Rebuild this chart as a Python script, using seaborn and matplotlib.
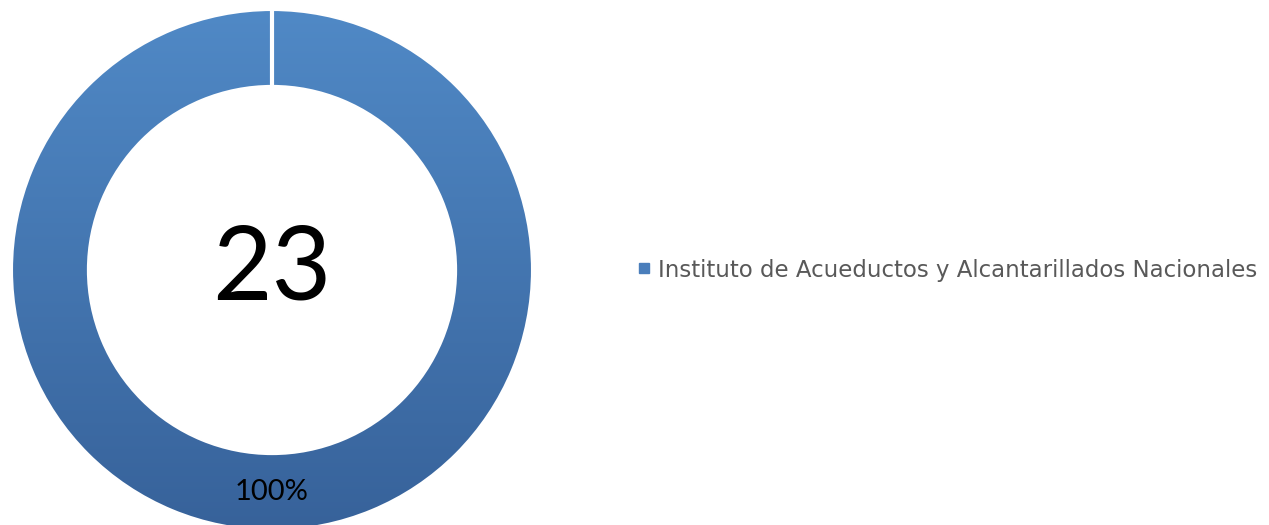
import numpy as np
import matplotlib
matplotlib.use("Agg")
import matplotlib.pyplot as plt
import seaborn as sns
from matplotlib.lines import Line2D
from matplotlib.colors import LinearSegmentedColormap

# data
categories = ["Instituto de Acueductos y Alcantarillados Nacionales"]
values = [23]

sns.set_theme(style="white")
plt.rcParams['font.family'] = ['Lato', 'DejaVu Sans']

fig = plt.figure(figsize=(12.69, 5.25), dpi=100)
ax = fig.add_axes([0, 0, 544 / 1269, 1])
ax.axis('off')

top_col, bottom_col = "#5089c6", "#37629a"
ring = 0.292
wedges, _ = ax.pie(values, startangle=90, counterclock=False, radius=1,
                   wedgeprops=dict(width=ring, facecolor='none',
                                   edgecolor='white', linewidth=1.5))

# vertical gradient fill clipped to the ring
cmap = LinearSegmentedColormap.from_list("grad", [bottom_col, top_col])
grad = np.linspace(0, 1, 256).reshape(-1, 1)
for w in wedges:
    im = ax.imshow(grad, cmap=cmap, origin='lower', extent=(-1, 1, -1, 1),
                   aspect='auto', zorder=1)
    im.set_clip_path(w)
    w.set_zorder(2)
# white separator at the start of the slice
ax.plot([0, 0], [1 - ring - 0.01, 1.01], color='white', lw=3, zorder=3)
ax.set_xlim(-272 / 260, 272 / 260)
ax.set_ylim(-255 / 260, 270 / 260)

total = sum(values)
ax.text(0, 0, f"{total}", ha='center', va='center', fontsize=74, color='black')
for v in values:
    ax.text(0, -0.855, f"{v / total:.0%}", ha='center', va='center',
            fontsize=21, color='black', zorder=3)

handles = [Line2D([], [], marker='s', ls='', color="#4a7ebb", markersize=7)]
leg = fig.legend(handles=handles, labels=categories, loc='center left',
                 bbox_to_anchor=(612 / 1269, 1 - 270 / 525), frameon=False,
                 handletextpad=0.1, handlelength=1.0,
                 prop=dict(family='DejaVu Sans', size=16.5),
                 labelcolor='#595959')

fig.savefig("out.png", dpi=100)
